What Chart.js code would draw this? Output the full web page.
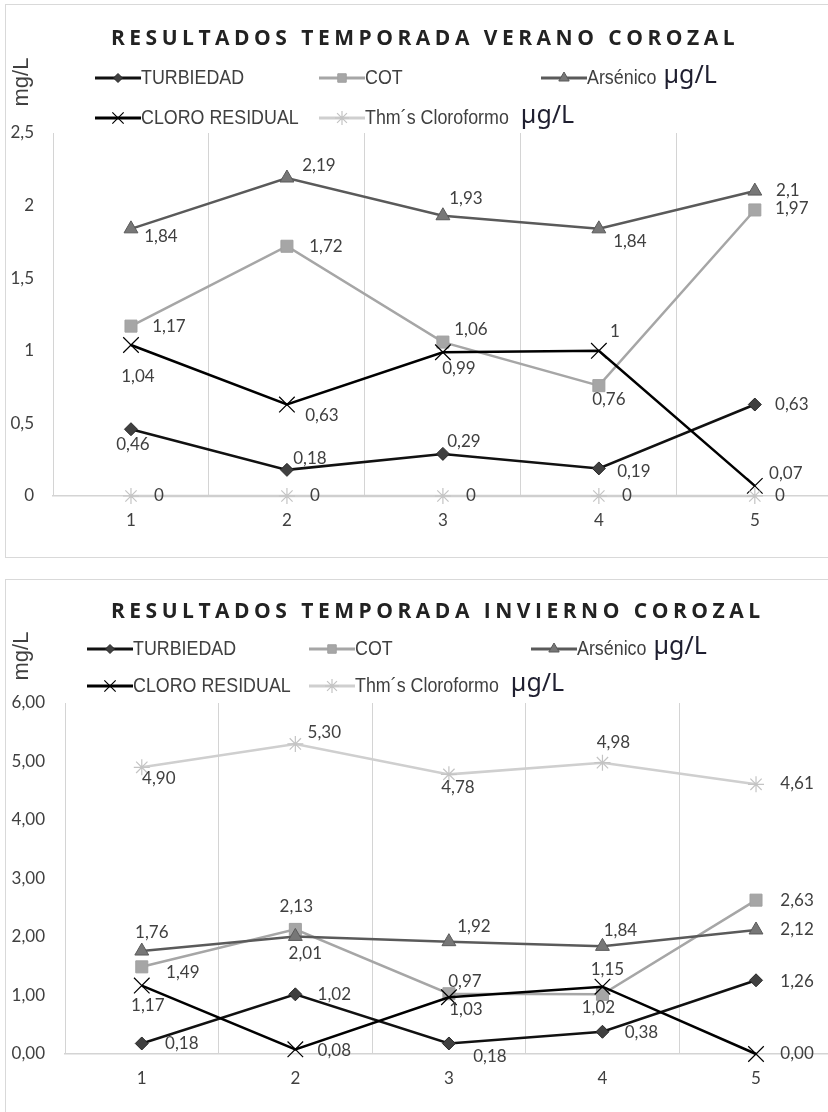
<!DOCTYPE html>
<html>
<head>
<meta charset="utf-8">
<script src="https://cdn.jsdelivr.net/npm/chart.js"></script>
<style>
    html, body { margin: 0; padding: 0; background: #fff; overflow: hidden; width: 828px; height: 1112px; }
    .box { position: absolute; border: 1px solid #d9d9d9; }
    #box1 { left: 5px; top: 4px; width: 900px; height: 552px; }
    #box2 { left: 5px; top: 579px; width: 900px; height: 600px; }
    .wrap { position: absolute; left: 0; }
    #wrap1 { top: 0; }
    #wrap2 { top: 560px; }
</style>
</head>
<body>
<div class="box" id="box1"></div>
<div class="box" id="box2"></div>
<div class="wrap" id="wrap1"><canvas id="chartVerano" width="845" height="560"></canvas></div>
<div class="wrap" id="wrap2"><canvas id="chartInvierno" width="845" height="552"></canvas></div>

<script>
// --- Data ---
const categories = ['1', '2', '3', '4', '5'];
const seriesNames = ['TURBIEDAD', 'COT', 'Arsénico', 'CLORO RESIDUAL', 'Thm´s Cloroformo'];
const seriesUnits = ['', '', 'µg/L', '', 'µg/L'];

// Temporada verano
const veranoTurbiedad = [0.46, 0.18, 0.29, 0.19, 0.63];
const veranoCot = [1.17, 1.72, 1.06, 0.76, 1.97];
const veranoArsenico = [1.84, 2.19, 1.93, 1.84, 2.1];
const veranoCloro = [1.04, 0.63, 0.99, 1, 0.07];
const veranoThm = [0, 0, 0, 0, 0];
const veranoYTicks = [0, 0.5, 1, 1.5, 2, 2.5];

// Temporada invierno
const inviernoTurbiedad = [0.18, 1.02, 0.18, 0.38, 1.26];
const inviernoCot = [1.49, 2.13, 1.03, 1.02, 2.63];
const inviernoArsenico = [1.76, 2.01, 1.92, 1.84, 2.12];
const inviernoCloro = [1.17, 0.08, 0.97, 1.15, 0.00];
const inviernoThm = [4.90, 5.30, 4.78, 4.98, 4.61];
const inviernoYTicks = [0, 1, 2, 3, 4, 5, 6];

// --- Styles ---
const FONT = 'Lato';
const TEXT_COLOR = '#404040';

const seriesStyles = [
    { line: '#111111', pointStyle: 'rectRot', radius: 6.5, bg: '#404040', border: '#262626', bw: 1, legendR: 4.5 },
    { line: '#a6a6a6', pointStyle: 'rect', radius: 8.5, bg: '#a6a6a6', border: '#a0a0a0', bw: 1, legendR: 6 },
    { line: '#5a5a5a', pointStyle: 'triangle', radius: 8, bg: '#777777', border: '#5a5a5a', bw: 1, legendR: 6 },
    { line: '#000000', pointStyle: 'crossRot', radius: 11, bg: '#000000', border: '#000000', bw: 1.2, legendR: 8 },
    { line: '#cfcfcf', pointStyle: 'star', radius: 8, bg: '#c4c4c4', border: '#c4c4c4', bw: 1.2, legendR: 7 }
];

// label offsets (dx, dy to label centre) per series, per point
const veranoLabelPos = [
    [[2, 15], [23, -11], [21, -12], [35, 3], [37, 0]],
    [[38, 0], [39, 0], [28, -13], [10, 14], [37, -1]],
    [[30, 8], [32, -12], [23, -17], [31, 13], [33, -1]],
    [[7, 32], [35, 11], [16, 16], [16, -19], [31, -12]],
    [[28, 0], [28, 0], [28, 0], [28, 0], [25, 0]]
];
const inviernoLabelPos = [
    [[40, 0], [39, 0], [41, 13], [39, 1], [41, 1]],
    [[41, 6], [1, -23], [17, 16], [-4, 13], [41, 0]],
    [[10, -19], [10, 17], [25, -15], [18, -16], [41, 0]],
    [[6, 20], [39, 1], [16, -16], [5, -17], [41, 0]],
    [[17, 11], [29, -11], [9, 13], [11, -20], [41, -1]]
];

function fmtGeneral(v) { return String(v).replace('.', ','); }
function fmtTwo(v) { return v.toFixed(2).replace('.', ','); }

function drawMarker(ctx, st, x, y, r) {
    ctx.save();
    ctx.fillStyle = st.bg;
    ctx.strokeStyle = st.border;
    ctx.lineWidth = st.bw;
    Chart.helpers.drawPoint(ctx, { pointStyle: st.pointStyle, radius: r, rotation: 0, borderWidth: st.bw }, x, y);
    ctx.restore();
}

// condensed text: draw a regular font squeezed horizontally
function condensedText(ctx, text, x, y, squeeze) {
    ctx.save();
    ctx.translate(x, y);
    ctx.scale(squeeze, 1);
    ctx.fillText(text, 0, 0);
    ctx.restore();
    return ctx.measureText(text).width * squeeze;
}

/**
 * Title, legend, axis title and data labels drawn on the canvas.
 */
const overlayPlugin = {
    id: 'overlay',
    afterDatasetsDraw(chart, args, opts) {
        const ctx = chart.ctx;
        ctx.save();
        ctx.font = `17px ${FONT}`;
        ctx.fillStyle = TEXT_COLOR;
        ctx.textAlign = 'center';
        ctx.textBaseline = 'middle';
        chart.data.datasets.forEach((ds, i) => {
            const meta = chart.getDatasetMeta(i);
            meta.data.forEach((pt, j) => {
                const off = opts.labelPos[i][j];
                ctx.fillText(opts.format(ds.data[j]), pt.x + off[0], pt.y + off[1]);
            });
        });
        ctx.restore();
    },
    afterDraw(chart, args, opts) {
        const ctx = chart.ctx;
        ctx.save();

        // Title with spaced letters
        ctx.font = 'bold 21px "Open Sans"';
        ctx.fillStyle = '#222222';
        ctx.textAlign = 'left';
        ctx.textBaseline = 'middle';
        let x = opts.titleX;
        for (const ch of opts.title) {
            ctx.fillText(ch, x, opts.titleY);
            x += ctx.measureText(ch).width + opts.titleSpacing;
        }

        // mg/L axis title
        ctx.save();
        ctx.translate(opts.axisTitleX, opts.axisTitleY);
        ctx.rotate(-Math.PI / 2);
        ctx.font = '22px "Liberation Sans"';
        ctx.fillStyle = TEXT_COLOR;
        ctx.textAlign = 'center';
        ctx.fillText('mg/L', 0, 0);
        ctx.restore();

        // Legend
        opts.legendSlots.forEach((slot, i) => {
            const st = seriesStyles[i];
            const lx = slot[0], ly = slot[1];
            ctx.strokeStyle = st.line;
            ctx.lineWidth = 3;
            ctx.beginPath();
            ctx.moveTo(lx, ly);
            ctx.lineTo(lx + 46, ly);
            ctx.stroke();
            drawMarker(ctx, st, lx + 23, ly, st.legendR);

            ctx.font = '21px "Liberation Sans"';
            ctx.fillStyle = TEXT_COLOR;
            ctx.textAlign = 'left';
            ctx.textBaseline = 'middle';
            const w = condensedText(ctx, seriesNames[i], lx + 46, ly, 0.85);
            if (seriesUnits[i]) {
                ctx.font = '25px "Noto Sans"';
                ctx.fillStyle = '#1f1f30';
                ctx.fillText(seriesUnits[i], lx + 46 + w + opts.unitGap[i], ly - 2);
            }
        });
        ctx.restore();
    }
};

function makeDatasets(seriesValues) {
    return seriesValues.map((vals, i) => {
        const st = seriesStyles[i];
        return {
            label: seriesNames[i],
            data: vals,
            borderColor: st.line,
            borderWidth: 2.5,
            pointStyle: st.pointStyle,
            pointRadius: st.radius,
            pointBackgroundColor: st.bg,
            pointBorderColor: st.border,
            pointBorderWidth: st.bw,
            tension: 0,
            fill: false,
            clip: false,
            order: seriesValues.length - i   // later series drawn on top
        };
    });
}

function makeChart(canvasId, seriesValues, yTicks, cfg) {
    const ctx = document.getElementById(canvasId).getContext('2d');
    return new Chart(ctx, {
        type: 'line',
        data: { labels: categories, datasets: makeDatasets(seriesValues) },
        plugins: [overlayPlugin],
        options: {
            responsive: false,
            animation: false,
            layout: { padding: cfg.padding },
            plugins: {
                legend: { display: false },
                tooltip: { enabled: false },
                overlay: cfg.overlay
            },
            scales: {
                x: {
                    type: 'category',
                    offset: true,
                    grid: { offset: true, color: '#d4d4d4', lineWidth: 1, drawTicks: false },
                    border: { color: '#d4d4d4', width: 1.5 },
                    ticks: { color: TEXT_COLOR, font: { family: FONT, size: 17 }, padding: 14 },
                    afterFit(scale) { scale.height = 40; }
                },
                y: {
                    min: yTicks[0],
                    max: yTicks[yTicks.length - 1],
                    grid: { display: false, drawTicks: false },
                    border: { display: false },
                    ticks: {
                        stepSize: yTicks[1] - yTicks[0],
                        color: TEXT_COLOR,
                        font: { family: FONT, size: 17 },
                        padding: cfg.yPad,
                        callback: v => cfg.tickFormat(v)
                    },
                    afterFit(scale) { scale.width = cfg.yWidth; }
                }
            }
        }
    });
}

// --- Main Setup ---
makeChart('chartVerano',
    [veranoTurbiedad, veranoCot, veranoArsenico, veranoCloro, veranoThm],
    veranoYTicks,
    {
        padding: { top: 133, bottom: 24, left: 0, right: 12 },
        yWidth: 53,
        yPad: 19,
        tickFormat: fmtGeneral,
        overlay: {
            title: 'RESULTADOS TEMPORADA VERANO COROZAL',
            titleX: 111, titleY: 39, titleSpacing: 4.5,
            axisTitleX: 22, axisTitleY: 82,
            legendSlots: [[95, 78], [319, 78], [541, 78], [95, 118], [319, 118]],
            unitGap: [0, 0, 7, 0, 12],
            labelPos: veranoLabelPos,
            format: fmtGeneral
        }
    });

makeChart('chartInvierno',
    [inviernoTurbiedad, inviernoCot, inviernoArsenico, inviernoCloro, inviernoThm],
    inviernoYTicks,
    {
        padding: { top: 143, bottom: 18, left: 0, right: 8 },
        yWidth: 65,
        yPad: 20,
        tickFormat: fmtTwo,
        overlay: {
            title: 'RESULTADOS TEMPORADA INVIERNO COROZAL',
            titleX: 111, titleY: 52, titleSpacing: 4.5,
            axisTitleX: 22, axisTitleY: 96,
            legendSlots: [[87, 89], [309, 89], [531, 89], [87, 126], [309, 126]],
            unitGap: [0, 0, 7, 0, 12],
            labelPos: inviernoLabelPos,
            format: fmtTwo
        }
    });
</script>
</body>
</html>
